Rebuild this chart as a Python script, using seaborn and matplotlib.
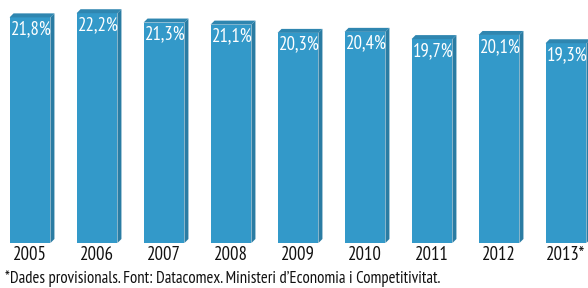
import pandas as pd
import seaborn as sns
import matplotlib.pyplot as plt
from matplotlib.patches import Polygon

years = ['2005', '2006', '2007', '2008', '2009', '2010', '2011', '2012', '2013*']
values = [21.8, 22.2, 21.3, 21.1, 20.3, 20.4, 19.7, 20.1, 19.3]
labels = ['21,8%', '22,2%', '21,3%', '21,1%', '20,3%', '20,4%', '19,7%', '20,1%', '19,3%']
footnote = '*Dades provisionals. Font: Datacomex. Ministeri d\u2019Economia i Competitivitat.'

front_color = '#3399c9'
side_color = '#2a7ca3'
top_color = '#2f86b0'

sns.set_style('white')
plt.rcParams['font.family'] = ['PT Sans Narrow', 'Roboto Condensed', 'DejaVu Sans']

df = pd.DataFrame({'year': years, 'value': values})

fig = plt.figure(figsize=(5.88, 2.88), dpi=100)
ax = fig.add_axes([0, 45 / 288, 1, 243 / 288])
sns.barplot(data=df, x='year', y='value', color=front_color, saturation=1,
            width=0.61, linewidth=0, ax=ax)

ax.set_xlim(-30 / 67, 558 / 67)
ax.set_ylim(0, 243 / 10.35)

# fake 3D depth: side and top faces
dx = 4 / 67
dy = 4 / 10.35
for bar in list(ax.patches):
    x0 = bar.get_x()
    x1 = x0 + bar.get_width()
    h = bar.get_height()
    side = Polygon([(x1, 0), (x1 + dx, dy), (x1 + dx, h + dy), (x1, h)],
                   closed=True, facecolor=side_color, edgecolor='none')
    top = Polygon([(x0, h), (x0 + dx, h + dy), (x1 + dx, h + dy), (x1, h)],
                  closed=True, facecolor=top_color, edgecolor='none')
    ax.add_patch(side)
    ax.add_patch(top)

for i, (v, lab) in enumerate(zip(values, labels)):
    ax.annotate(lab, (i, v), xytext=(1, -2), textcoords='offset points',
                ha='center', va='top', color='white', fontsize=13.5)

sns.despine(ax=ax, left=True, bottom=True)
ax.set_yticks([])
ax.set_xlabel('')
ax.set_ylabel('')
ax.tick_params(axis='x', length=0, pad=2.5, labelsize=13.5, labelcolor='#111111')

fig.text(0.008, 0.005, footnote, fontsize=12, color='#111111', ha='left', va='bottom')

plt.savefig('out.png', dpi=100)
plt.close()
